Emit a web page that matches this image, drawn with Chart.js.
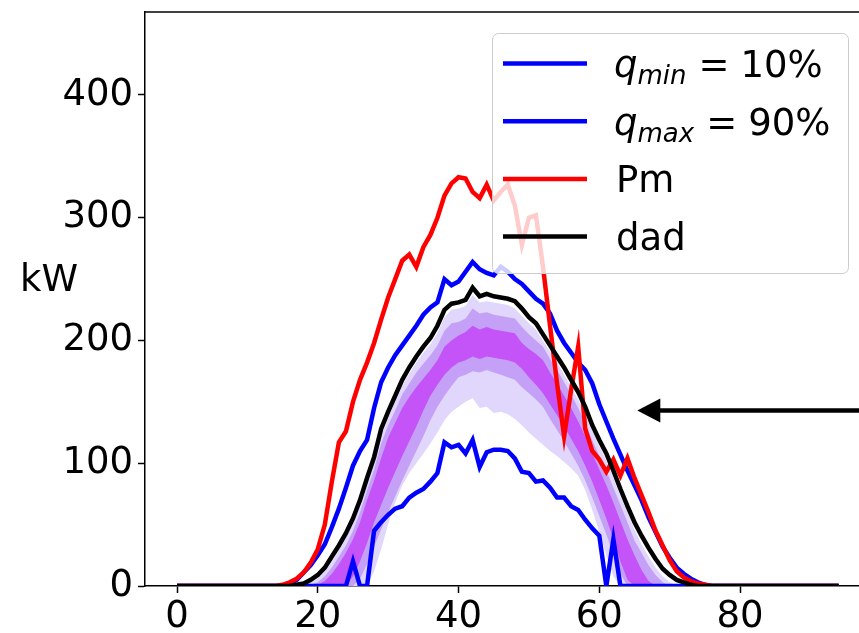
<!DOCTYPE html>
<html>
<head>
<meta charset="utf-8">
<title>kW</title>
<script src="https://cdn.jsdelivr.net/npm/chart.js@4.4.0/dist/chart.umd.min.js"></script>
<style>
    html, body { margin: 0; padding: 0; background: #fff; overflow: hidden; }
    #wrap { position: relative; width: 859px; height: 633px; }
</style>
</head>
<body>
<div id="wrap"><canvas id="power-chart" width="859" height="633"></canvas></div>
<script>
(function () {
    "use strict";

    // Quantile lines, measured power and forecast, one value per time step (kW)
    var qMin = [
        0, 0, 0, 0, 0, 0, 0, 0, 0, 0,
        0, 0, 0, 0, 0, 0, 0, 0, 0, 0,
        0, 0, 0, 0, 0, 20, 0, 0, 45, 52,
        58, 63, 65, 72, 76, 79, 85, 92, 117, 113,
        115, 108, 119, 97, 109, 111, 111, 110, 104, 93,
        92, 85, 86, 80, 72, 72, 65, 62, 54, 47,
        41, 0, 38, 0, 0, 0, 0, 0, 0, 0,
        0, 0, 0, 0, 0, 0, 0, 0, 0, 0,
        0, 0, 0, 0, 0, 0, 0, 0, 0, 0,
        0, 0, 0, 0, 0
    ];
    var qMax = [
        0, 0, 0, 0, 0, 0, 0, 0, 0, 0,
        0, 0, 0, 0, 0, 0, 2, 5, 11, 17,
        25, 34, 48, 63, 80, 98, 110, 119, 145, 166,
        178, 188, 196, 204, 212, 221, 227, 231, 250, 245,
        248, 256, 264, 258, 255, 253, 260, 256, 250, 246,
        240, 234, 230, 222, 208, 198, 190, 182, 176, 165,
        148, 134, 120, 107, 94, 82, 70, 56, 44, 32,
        23, 15, 10, 6, 3, 1, 0, 0, 0, 0,
        0, 0, 0, 0, 0, 0, 0, 0, 0, 0,
        0, 0, 0, 0, 0
    ];
    var pm = [
        0, 0, 0, 0, 0, 0, 0, 0, 0, 0,
        0, 0, 0, 0, 0, 1, 3, 6, 11, 19,
        30, 50, 85, 117, 126, 150, 168, 182, 198, 217,
        235, 250, 265, 270, 260, 276, 286, 300, 318, 328,
        333, 332, 321, 316, 327, 314, 321, 327, 310, 278,
        300, 302, 260, 212, 165, 122, 160, 195, 128, 110,
        103, 93, 103, 90, 104, 88, 74, 60, 45, 33,
        21, 12, 7, 4, 2, 1, 0, 0, 0, 0,
        0, 0, 0, 0, 0, 0, 0, 0, 0, 0,
        0, 0, 0, 0, 0
    ];
    var dad = [
        0, 0, 0, 0, 0, 0, 0, 0, 0, 0,
        0, 0, 0, 0, 0, 0, 0, 1, 2, 5,
        9, 15, 24, 33, 43, 55, 70, 88, 105, 128,
        142, 155, 168, 178, 187, 195, 202, 212, 225, 230,
        231, 233, 243, 236, 238, 236, 235, 234, 232, 226,
        219, 214, 205, 196, 187, 178, 168, 158, 146, 131,
        119, 108, 94, 79, 65, 52, 41, 31, 22, 14,
        9, 5, 3, 1, 0, 0, 0, 0, 0, 0,
        0, 0, 0, 0, 0, 0, 0, 0, 0, 0,
        0, 0, 0, 0, 0
    ];

    // Fan bands: outer (light), middle and inner (dark) quantile ranges
    var lightHi = [
        0, 0, 0, 0, 0, 0, 0, 0, 0, 0,
        0, 0, 0, 0, 0, 0, 0, 0, 1, 3,
        6, 12, 20, 29, 39, 51, 66, 84, 101, 122,
        137, 150, 163, 173, 182, 190, 197, 206, 219, 225,
        226, 228, 237, 231, 232, 231, 230, 229, 226, 220,
        214, 209, 200, 191, 182, 172, 162, 152, 140, 126,
        114, 102, 88, 73, 60, 46, 34, 24, 15, 8,
        3, 0, 0, 0, 0, 0, 0, 0, 0, 0,
        0, 0, 0, 0, 0, 0, 0, 0, 0, 0,
        0, 0, 0, 0, 0
    ];
    var medHi = [
        0, 0, 0, 0, 0, 0, 0, 0, 0, 0,
        0, 0, 0, 0, 0, 0, 0, 0, 0, 1,
        3, 8, 15, 24, 33, 45, 60, 78, 95, 116,
        131, 143, 156, 165, 174, 181, 188, 196, 208, 214,
        215, 218, 226, 222, 223, 221, 220, 219, 218, 211,
        205, 200, 195, 185, 176, 166, 156, 145, 133, 119,
        106, 94, 80, 66, 52, 37, 27, 17, 9, 3,
        0, 0, 0, 0, 0, 0, 0, 0, 0, 0,
        0, 0, 0, 0, 0, 0, 0, 0, 0, 0,
        0, 0, 0, 0, 0
    ];
    var darkHi = [
        0, 0, 0, 0, 0, 0, 0, 0, 0, 0,
        0, 0, 0, 0, 0, 0, 0, 0, 0, 0,
        1, 4, 10, 18, 27, 38, 52, 70, 86, 104,
        121, 133, 145, 154, 162, 169, 176, 184, 195, 200,
        204, 207, 212, 209, 211, 209, 208, 207, 206, 198,
        193, 189, 184, 174, 165, 155, 145, 134, 122, 108,
        95, 82, 68, 53, 38, 25, 13, 4, 0, 0,
        0, 0, 0, 0, 0, 0, 0, 0, 0, 0,
        0, 0, 0, 0, 0, 0, 0, 0, 0, 0,
        0, 0, 0, 0, 0
    ];
    var darkLo = [
        0, 0, 0, 0, 0, 0, 0, 0, 0, 0,
        0, 0, 0, 0, 0, 0, 0, 0, 0, 0,
        0, 0, 0, 0, 0, 8, 20, 35, 52, 66,
        80, 93, 106, 118, 130, 143, 155, 164, 172, 178,
        182, 184, 187, 185, 187, 186, 185, 184, 182, 177,
        170, 164, 157, 148, 139, 130, 120, 110, 98, 85,
        70, 55, 38, 20, 5, 0, 0, 0, 0, 0,
        0, 0, 0, 0, 0, 0, 0, 0, 0, 0,
        0, 0, 0, 0, 0, 0, 0, 0, 0, 0,
        0, 0, 0, 0, 0
    ];
    var medLo = [
        0, 0, 0, 0, 0, 0, 0, 0, 0, 0,
        0, 0, 0, 0, 0, 0, 0, 0, 0, 0,
        0, 0, 0, 0, 0, 0, 6, 18, 32, 46,
        60, 73, 86, 98, 110, 122, 135, 146, 155, 163,
        170, 172, 175, 174, 176, 174, 172, 170, 168, 162,
        157, 152, 146, 136, 127, 118, 108, 98, 86, 72,
        57, 42, 26, 10, 0, 0, 0, 0, 0, 0,
        0, 0, 0, 0, 0, 0, 0, 0, 0, 0,
        0, 0, 0, 0, 0, 0, 0, 0, 0, 0,
        0, 0, 0, 0, 0
    ];
    var lightLo = [
        0, 0, 0, 0, 0, 0, 0, 0, 0, 0,
        0, 0, 0, 0, 0, 0, 0, 0, 0, 0,
        0, 0, 0, 0, 0, 0, 0, 0, 12, 30,
        50, 68, 82, 92, 100, 108, 116, 125, 135, 142,
        146, 150, 153, 145, 146, 141, 142, 140, 136, 131,
        125, 120, 115, 110, 106, 101, 96, 90, 78, 62,
        44, 25, 8, 0, 0, 0, 0, 0, 0, 0,
        0, 0, 0, 0, 0, 0, 0, 0, 0, 0,
        0, 0, 0, 0, 0, 0, 0, 0, 0, 0,
        0, 0, 0, 0, 0
    ];

    var xTicks = [0, 20, 40, 60, 80];
    var yTicks = [0, 100, 200, 300, 400];

    // Arrow marker (data units)
    var arrowAt = { x: 65.4, y: 143 };

    var legendItems = [
        { color: "#0000ff", sym: "q", sub: "min", rest: "10%" },
        { color: "#0000ff", sym: "q", sub: "max", rest: "90%" },
        { color: "#ff0000", text: "Pm" },
        { color: "#000000", text: "dad" }
    ];

    var FONT = "'DejaVu Sans', sans-serif";
    Chart.defaults.font.family = FONT;
    Chart.defaults.font.size = 37;
    Chart.defaults.color = "#000";

    function points(values) {
        return values.map(function (v, i) { return { x: i, y: v }; });
    }

    function line(values, color, order) {
        return {
            data: points(values),
            borderColor: color,
            borderWidth: 4.5,
            pointRadius: 0,
            tension: 0,
            fill: false,
            order: order
        };
    }

    function edge(values, order, color) {
        return {
            data: points(values),
            borderWidth: 0,
            pointRadius: 0,
            tension: 0,
            backgroundColor: color || "transparent",
            fill: color ? "-1" : false,
            order: order
        };
    }

    // Spines, arrow, legend and axis label
    var decorations = {
        id: "decorations",
        afterDatasetsDraw: function (chart) {
            var ctx = chart.ctx;
            var area = chart.chartArea;
            var xs = chart.scales.x;
            var ys = chart.scales.y;

            ctx.save();
            ctx.strokeStyle = "#000";
            ctx.lineWidth = 1.5;
            ctx.beginPath();
            ctx.moveTo(area.left, area.top);
            ctx.lineTo(chart.width, area.top);
            ctx.stroke();

            var tipX = xs.getPixelForValue(arrowAt.x);
            var ay = ys.getPixelForValue(arrowAt.y);
            ctx.lineWidth = 4.5;
            ctx.beginPath();
            ctx.moveTo(tipX + 20, ay);
            ctx.lineTo(chart.width, ay);
            ctx.stroke();
            ctx.fillStyle = "#000";
            ctx.beginPath();
            ctx.moveTo(tipX, ay);
            ctx.lineTo(tipX + 23, ay - 12);
            ctx.lineTo(tipX + 23, ay + 12);
            ctx.closePath();
            ctx.fill();

            // legend box
            ctx.beginPath();
            if (ctx.roundRect) {
                ctx.roundRect(492.5, 33.5, 356, 240, 6);
            } else {
                ctx.rect(492.5, 33.5, 356, 240);
            }
            ctx.fillStyle = "rgba(255, 255, 255, 0.8)";
            ctx.fill();
            ctx.strokeStyle = "#cccccc";
            ctx.lineWidth = 1;
            ctx.stroke();

            ctx.textBaseline = "alphabetic";
            ctx.textAlign = "left";
            legendItems.forEach(function (item, i) {
                var base = 77 + i * 57.7;
                ctx.strokeStyle = item.color;
                ctx.lineWidth = 4.5;
                ctx.lineCap = "butt";
                ctx.beginPath();
                ctx.moveTo(503, base - 13.5);
                ctx.lineTo(587, base - 13.5);
                ctx.stroke();

                ctx.fillStyle = "#000";
                if (item.text) {
                    ctx.font = "37px " + FONT;
                    ctx.fillText(item.text, 616, base);
                    return;
                }
                var x = 614;
                ctx.font = "italic 37px " + FONT;
                ctx.fillText(item.sym, x, base);
                x += ctx.measureText(item.sym).width;
                ctx.font = "italic 26px " + FONT;
                ctx.fillText(item.sub, x, base + 7);
                x += ctx.measureText(item.sub).width + 12;
                ctx.font = "37px " + FONT;
                ctx.fillText("=", x, base);
                x += ctx.measureText("=").width + 11;
                ctx.fillText(item.rest, x, base);
            });

            ctx.font = "37px " + FONT;
            ctx.fillStyle = "#000";
            ctx.fillText("kW", 20, 291);
            ctx.restore();
        }
    };

    var ctx1 = document.getElementById("power-chart").getContext("2d");
    var powerChart = new Chart(ctx1, {
        type: "line",
        data: {
            datasets: [
                line(qMin, "#0000ff", 0.3),
                line(qMax, "#0000ff", 0.2),
                line(pm, "#ff0000", 0.1),
                line(dad, "#000000", 0),
                edge(lightLo, 3),
                edge(lightHi, 3, "#e1d6fc"),
                edge(medLo, 2),
                edge(medHi, 2, "#c4a0f7"),
                edge(darkLo, 1),
                edge(darkHi, 1, "#c453f8")
            ]
        },
        options: {
            responsive: false,
            animation: false,
            layout: { padding: { top: 12, left: 0, right: 0, bottom: 0 } },
            plugins: {
                legend: { display: false },
                tooltip: { enabled: false }
            },
            scales: {
                x: {
                    type: "linear",
                    min: -4.55,
                    max: 96.9,
                    afterBuildTicks: function (scale) {
                        scale.ticks = xTicks.map(function (v) { return { value: v }; });
                    },
                    afterFit: function (scale) {
                        scale.height = 47;
                        scale.paddingLeft = 0;
                        scale.paddingRight = 0;
                    },
                    grid: {
                        drawOnChartArea: false,
                        drawTicks: true,
                        tickLength: 7,
                        tickWidth: 1.5,
                        tickColor: "#000"
                    },
                    border: { color: "#000", width: 1.5 },
                    ticks: { padding: 2, maxRotation: 0, autoSkip: false }
                },
                y: {
                    min: 0,
                    max: 467.6,
                    afterBuildTicks: function (scale) {
                        scale.ticks = yTicks.map(function (v) { return { value: v }; });
                    },
                    afterFit: function (scale) {
                        scale.width = 145;
                        scale.paddingTop = 0;
                        scale.paddingBottom = 0;
                    },
                    grid: {
                        drawOnChartArea: false,
                        drawTicks: true,
                        tickLength: 7,
                        tickWidth: 1.5,
                        tickColor: "#000"
                    },
                    border: { color: "#000", width: 1.5 },
                    ticks: { padding: 5, autoSkip: false }
                }
            }
        },
        plugins: [decorations]
    });
})();
</script>
</body>
</html>
